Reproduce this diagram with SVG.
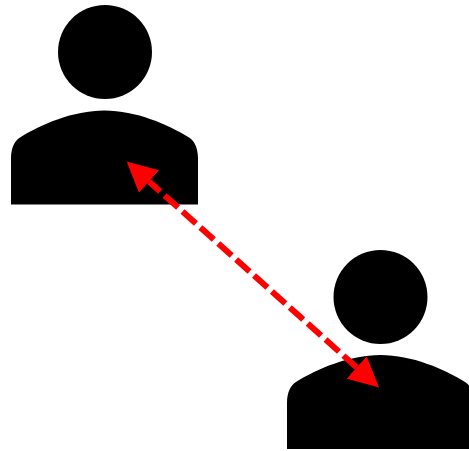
<svg xmlns="http://www.w3.org/2000/svg" width="469" height="451" viewBox="0 0 469 451">
<defs>
<path id="body" d="M0 94V48C0 37 4 30 9 27C30 14 62 0 93.500 0S157 14 178 27C183 30 187 37 187 48V94Z"/>
<marker id="a" viewBox="0 0 30 30" refX="0" refY="15" markerWidth="5" markerHeight="5" markerUnits="strokeWidth" orient="auto-start-reverse"><path d="M0 0L30 15L0 30Z" fill="#f00"/></marker>
</defs>
<style>.p{fill:#000}.c{stroke:#f00;stroke-width:6;stroke-dasharray:18 6;stroke-dashoffset:3;fill:none}</style>
<g id="person-1" class="p"><circle cx="105" cy="52" r="47"/><use href="#body" x="11" y="110.500"/></g>
<g id="person-2" class="p"><circle cx="380.500" cy="297" r="47"/><use href="#body" x="287" y="355"/></g>
<g id="connectors"><line class="c" x1="149" y1="181.500" x2="356.700" y2="367.500" marker-start="url(#a)" marker-end="url(#a)"/></g>
</svg>
